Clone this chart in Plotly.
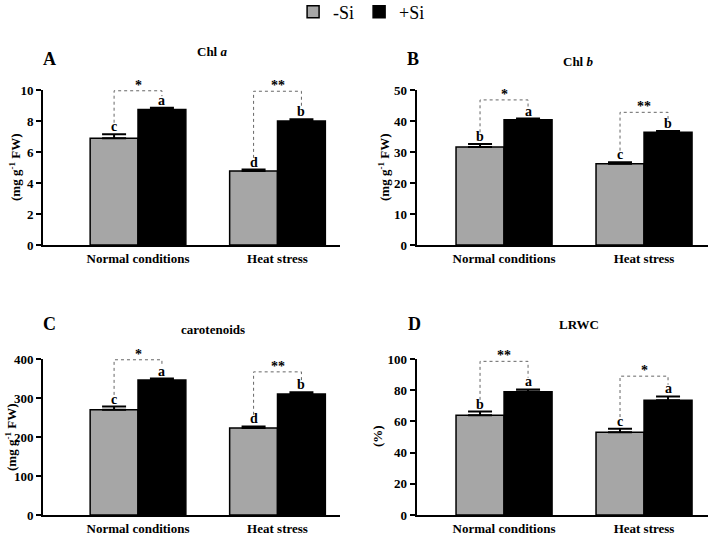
import plotly.graph_objects as go

# ---------------- data ----------------
CATEGORIES = ["Normal conditions", "Heat stress"]
SERIES_NAMES = ["-Si", "+Si"]

CHLA_MINUS = [6.88, 4.77]
CHLA_MINUS_ERR = [0.26, 0.10]
CHLA_PLUS = [8.75, 8.00]
CHLA_PLUS_ERR = [0.10, 0.12]

CHLB_MINUS = [31.6, 26.2]
CHLB_MINUS_ERR = [1.0, 0.5]
CHLB_PLUS = [40.4, 36.4]
CHLB_PLUS_ERR = [0.4, 0.4]

CAR_MINUS = [270, 223]
CAR_MINUS_ERR = [8, 4]
CAR_PLUS = [346, 310]
CAR_PLUS_ERR = [4, 5]

LRWC_MINUS = [64.0, 53.0]
LRWC_MINUS_ERR = [2.3, 2.3]
LRWC_PLUS = [79.0, 73.5]
LRWC_PLUS_ERR = [1.5, 2.5]

LETTERS_CHLA = [["c", "d"], ["a", "b"]]
LETTERS_CHLB = [["b", "c"], ["a", "b"]]
LETTERS_CAR = [["c", "d"], ["a", "b"]]
LETTERS_LRWC = [["b", "c"], ["a", "a"]]

SIG_CHLA = ["*", "**"]
SIG_CHLB = ["*", "**"]
SIG_CAR = ["*", "**"]
SIG_LRWC = ["**", "*"]

# ---------------- style ----------------
FONT = "Liberation Serif"
GRAY = "#a6a6a6"
BLACK = "#000000"
BARGAP = 0.314
BAR_W = (1 - BARGAP) / 2

panels = [
    dict(key="A", title="Chl <i>a</i>", ytitle="(mg g<sup>-1</sup> FW)",
         minus=CHLA_MINUS, minus_err=CHLA_MINUS_ERR, plus=CHLA_PLUS, plus_err=CHLA_PLUS_ERR,
         letters=LETTERS_CHLA, sig=SIG_CHLA, top=10, dtick=2,
         xdom=[43 / 709, 340 / 709], xr=[-0.681, 1.448], ydom=[1 - 245 / 535, 1 - 90 / 535],
         lift=[0.115, 0.18], letter_pos=(49, 59), title_pos=(212, 51), ytitle_pos=(15, 167)),
    dict(key="B", title="Chl <i>b</i>", ytitle="(mg g<sup>-1</sup> FW)",
         minus=CHLB_MINUS, minus_err=CHLB_MINUS_ERR, plus=CHLB_PLUS, plus_err=CHLB_PLUS_ERR,
         letters=LETTERS_CHLB, sig=SIG_CHLB, top=50, dtick=10,
         xdom=[416.7 / 709, 708 / 709], xr=[-0.624, 1.457], ydom=[1 - 245 / 535, 1 - 90 / 535],
         lift=[0.12, 0.12], letter_pos=(413, 59), title_pos=(578, 61), ytitle_pos=(384, 167)),
    dict(key="C", title="carotenoids", ytitle="(mg g<sup>-1</sup> FW)",
         minus=CAR_MINUS, minus_err=CAR_MINUS_ERR, plus=CAR_PLUS, plus_err=CAR_PLUS_ERR,
         letters=LETTERS_CAR, sig=SIG_CAR, top=400, dtick=100,
         xdom=[43 / 709, 340 / 709], xr=[-0.681, 1.448], ydom=[1 - 515 / 535, 1 - 359 / 535],
         lift=[0.125, 0.13], letter_pos=(49, 324), title_pos=(213, 329), ytitle_pos=(11, 437)),
    dict(key="D", title="LRWC", ytitle="(%)",
         minus=LRWC_MINUS, minus_err=LRWC_MINUS_ERR, plus=LRWC_PLUS, plus_err=LRWC_PLUS_ERR,
         letters=LETTERS_LRWC, sig=SIG_LRWC, top=100, dtick=20,
         xdom=[416.7 / 709, 708 / 709], xr=[-0.624, 1.457], ydom=[1 - 515 / 535, 1 - 359 / 535],
         lift=[0.18, 0.13], letter_pos=(414, 324), title_pos=(579, 324), ytitle_pos=(377, 436)),
]

W, H = 709, 535
fig = go.Figure()
shapes = []
annotations = []
xs = list(range(len(CATEGORIES)))

for pi, p in enumerate(panels):
    n = "" if pi == 0 else str(pi + 1)
    xa, ya = "x" + n, "y" + n
    for si, (vals, errs, col) in enumerate([(p["minus"], p["minus_err"], GRAY),
                                            (p["plus"], p["plus_err"], BLACK)]):
        fig.add_trace(go.Bar(
            x=xs, y=vals, name=SERIES_NAMES[si], xaxis=xa, yaxis=ya,
            marker=dict(color=col, line=dict(color=BLACK, width=1.5)),
            error_y=dict(type="data", array=errs, arrayminus=[0] * len(errs), symmetric=False,
                         color=BLACK, thickness=2, width=12),
            showlegend=(pi == 0), legendgroup=SERIES_NAMES[si], offsetgroup=str(si),
        ))
    lay_x = "xaxis" + n
    lay_y = "yaxis" + n
    fig.layout[lay_x] = dict(domain=p["xdom"], range=p["xr"], anchor=ya, tickvals=xs,
                             ticktext=CATEGORIES, showline=True, linecolor=BLACK, linewidth=2,
                             ticks="", showgrid=False, zeroline=False, fixedrange=True,
                             tickfont=dict(family=FONT, size=13, color=BLACK, weight="bold"))
    fig.layout[lay_y] = dict(domain=p["ydom"], range=[0, p["top"]], anchor=xa, dtick=p["dtick"],
                             tick0=0, showline=True, linecolor=BLACK, linewidth=2, ticks="outside",
                             ticklen=5, tickwidth=2, tickcolor=BLACK, showgrid=False, zeroline=False,
                             fixedrange=True,
                             tickfont=dict(family=FONT, size=13, color=BLACK, weight="bold"))

    rng = p["top"]
    for gi in xs:
        tops = [p["minus"][gi] + p["minus_err"][gi], p["plus"][gi] + p["plus_err"][gi]]
        xl, xr_ = gi - BAR_W / 2, gi + BAR_W / 2
        # letters above error bars
        for si, xpos in enumerate([xl, xr_]):
            annotations.append(dict(x=xpos, y=tops[si], xref=xa, yref=ya, text=p["letters"][si][gi],
                                    showarrow=False, yanchor="bottom", yshift=-2,
                                    font=dict(family=FONT, size=14, color=BLACK, weight="bold")))
        btop = min(max(tops) + p["lift"][gi] * rng, 0.995 * rng)
        lb = tops[0] + 0.075 * rng
        rb = tops[1] + 0.075 * rng
        path = f"M {xl} {lb} L {xl} {btop} L {xr_} {btop} L {xr_} {rb}"
        shapes.append(dict(type="path", path=path, xref=xa, yref=ya,
                           line=dict(color="#666666", width=1, dash="dot")))
        annotations.append(dict(x=gi, y=btop, xref=xa, yref=ya, text=p["sig"][gi], showarrow=False,
                                yanchor="bottom", yshift=-4,
                                font=dict(family=FONT, size=14, color=BLACK, weight="bold")))

    lx, ly = p["letter_pos"]
    annotations.append(dict(x=lx / W, y=1 - ly / H, xref="paper", yref="paper", text=p["key"],
                            showarrow=False, xanchor="center", yanchor="middle",
                            font=dict(family=FONT, size=18, color=BLACK, weight="bold")))
    tx, ty = p["title_pos"]
    annotations.append(dict(x=tx / W, y=1 - ty / H, xref="paper", yref="paper", text=p["title"],
                            showarrow=False, xanchor="center", yanchor="middle",
                            font=dict(family=FONT, size=13, color=BLACK, weight="bold")))
    yx, yy = p["ytitle_pos"]
    annotations.append(dict(x=yx / W, y=1 - yy / H, xref="paper", yref="paper", text=p["ytitle"],
                            showarrow=False, xanchor="center", yanchor="middle", textangle=-90,
                            font=dict(family=FONT, size=13, color=BLACK, weight="bold")))

fig.update_layout(
    width=W, height=H, margin=dict(l=0, r=0, t=0, b=0, autoexpand=False),
    paper_bgcolor="white", plot_bgcolor="white",
    barmode="group", bargap=BARGAP, bargroupgap=0,
    shapes=shapes, annotations=annotations,
    legend=dict(orientation="h", x=0.51, xanchor="center", y=1.012, yanchor="top",
                font=dict(family=FONT, size=18, color=BLACK), itemclick=False,
                itemdoubleclick=False, bgcolor="rgba(0,0,0,0)"),
)

fig.write_html("out.html", config={"displayModeBar": False},
               post_script="document.body.style.margin='0px';document.body.style.overflow='hidden';")
